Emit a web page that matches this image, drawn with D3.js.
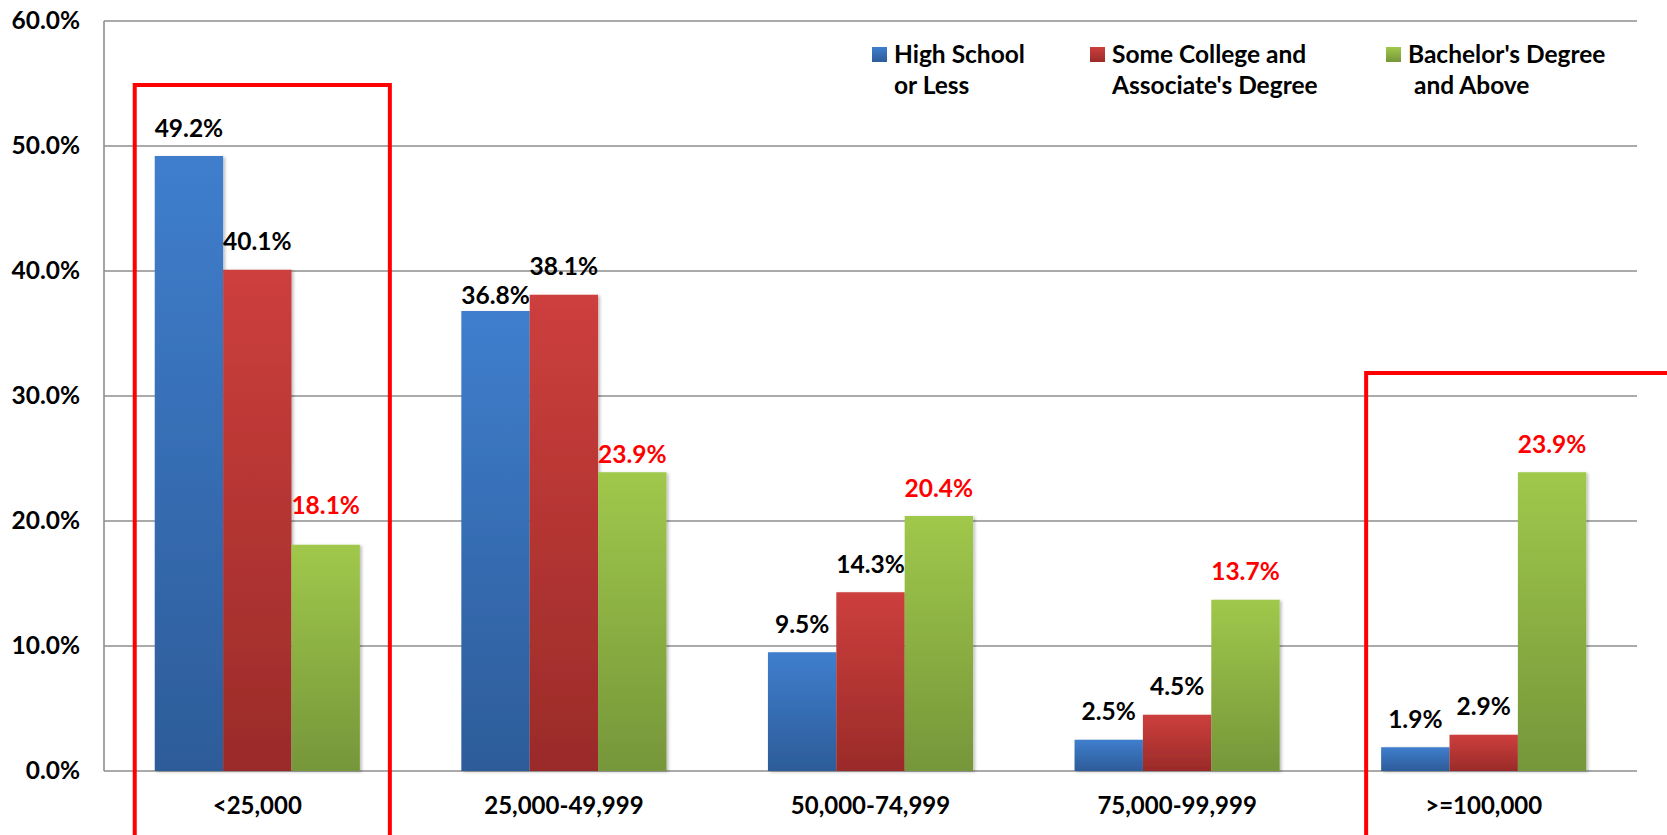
<!DOCTYPE html>
<html>
<head>
<meta charset="utf-8">
<script src="https://cdn.jsdelivr.net/npm/d3@7"></script>
<style>
  html, body { margin: 0; padding: 0; background: #ffffff; }
  svg { display: block; }
  text { font-family: "Lato", "Open Sans", sans-serif; font-weight: 700; }
</style>
</head>
<body>
<svg id="chart" width="1667" height="835"></svg>
<script>
// ---- Data ----
const categories = ["<25,000", "25,000-49,999", "50,000-74,999", "75,000-99,999", ">=100,000"];
const seriesKeys = ["hs", "sc", "ba"];
const seriesLabels = [
  ["High School", "or Less"],
  ["Some College and", "Associate's Degree"],
  ["Bachelor's Degree", " and Above"]
];
const highSchool = [49.2, 36.8, 9.5, 2.5, 1.9];
const someCollege = [40.1, 38.1, 14.3, 4.5, 2.9];
const bachelors = [18.1, 23.9, 20.4, 13.7, 23.9];
const yTicks = [0, 10, 20, 30, 40, 50, 60];
const highlightCategories = ["<25,000", ">=100,000"];

// ---- Styling ----
const gradients = {
  hs: ["#3f7ecd", "#2d5c99"],
  sc: ["#cd3f3d", "#9a2b29"],
  ba: ["#a0c84b", "#76963a"]
};
const labelColors = { hs: "#000000", sc: "#000000", ba: "#ff0000" };
// gap (px) between bar top and label baseline, per series per category
const labelGap = {
  hs: [19.5, 7, 19.5, 20, 19.5],
  sc: [19.5, 19.5, 19.5, 20, 19.5],
  ba: [31, 9.5, 19.5, 19.5, 19.5]
};
const FS = 24.5;

const seriesValues = { hs: highSchool, sc: someCollege, ba: bachelors };
const table = categories.map((c, i) => ({
  category: c,
  values: seriesKeys.map(k => ({ key: k, value: seriesValues[k][i], idx: i }))
}));

const svg = d3.select("#chart");
const plotLeft = 104, plotRight = 1637, plotTop = 21, plotBottom = 771;

const x = d3.scaleBand().domain(categories).range([plotLeft, plotRight])
  .paddingInner(0.331).paddingOuter(0.1655);
const xs = d3.scaleBand().domain(seriesKeys).range([0, x.bandwidth()]).padding(0);
const y = d3.scaleLinear().domain([0, 60]).range([plotBottom, plotTop]);

// defs
const defs = svg.append("defs");
seriesKeys.forEach(k => {
  const g = defs.append("linearGradient").attr("id", "grad-" + k)
    .attr("x1", 0).attr("y1", 0).attr("x2", 0).attr("y2", 1);
  g.append("stop").attr("offset", "0%").attr("stop-color", gradients[k][0]);
  g.append("stop").attr("offset", "100%").attr("stop-color", gradients[k][1]);
});
const f = defs.append("filter").attr("id", "shadow")
  .attr("x", "-10%").attr("y", "-10%").attr("width", "130%").attr("height", "130%");
f.append("feDropShadow").attr("dx", 2).attr("dy", 1).attr("stdDeviation", 1.5)
  .attr("flood-color", "#000").attr("flood-opacity", 0.25);

// gridlines
svg.append("g").selectAll("line").data(yTicks).join("line")
  .attr("x1", plotLeft).attr("x2", plotRight)
  .attr("y1", d => y(d)).attr("y2", d => y(d))
  .attr("stroke", "#8e8e8e").attr("stroke-width", 1.6);

// y axis line
svg.append("line").attr("x1", plotLeft).attr("x2", plotLeft)
  .attr("y1", y(60)).attr("y2", y(0))
  .attr("stroke", "#8e8e8e").attr("stroke-width", 1.6);

// y axis labels
const yAxis = d3.axisLeft(y).tickValues(yTicks).tickFormat(d => d.toFixed(1) + "%").tickSize(0).tickPadding(24);
const ya = svg.append("g").attr("transform", `translate(${plotLeft},0)`).call(yAxis);
ya.select(".domain").remove();
ya.selectAll("text").attr("font-size", FS).attr("fill", "#000")
  .attr("font-family", "Lato, sans-serif").attr("font-weight", 700);

// x axis labels
const xAxis = d3.axisBottom(x).tickSize(0).tickPadding(26);
const xa = svg.append("g").attr("transform", `translate(0,${plotBottom})`).call(xAxis);
xa.select(".domain").remove();
xa.selectAll("text").attr("font-size", 24).attr("fill", "#000")
  .attr("font-family", "Lato, sans-serif").attr("font-weight", 700);

// bars
const groups = svg.append("g").selectAll("g").data(table).join("g")
  .attr("transform", d => `translate(${x(d.category)},0)`);
groups.selectAll("rect").data(d => d.values).join("rect")
  .attr("x", d => xs(d.key))
  .attr("width", xs.bandwidth())
  .attr("y", d => y(d.value))
  .attr("height", d => y(0) - y(d.value))
  .attr("fill", d => `url(#grad-${d.key})`)
  .attr("filter", "url(#shadow)");

// value labels
groups.selectAll("text.val").data(d => d.values).join("text")
  .attr("class", "val")
  .attr("x", d => xs(d.key) + xs.bandwidth() / 2)
  .attr("y", d => y(d.value) - labelGap[d.key][d.idx])
  .attr("text-anchor", "middle")
  .attr("font-size", FS)
  .attr("fill", d => labelColors[d.key])
  .text(d => d.value.toFixed(1) + "%");

// legend
const legendX = [872, 1090, 1386];
const lg = svg.append("g").selectAll("g").data(seriesKeys).join("g")
  .attr("transform", (d, i) => `translate(${legendX[i]},0)`);
lg.append("rect").attr("x", 0).attr("y", 47).attr("width", 15).attr("height", 15)
  .attr("fill", d => `url(#grad-${d})`);
lg.each(function(d, i) {
  const t = d3.select(this).append("text").attr("font-size", FS).attr("fill", "#000")
    .style("white-space", "pre");
  seriesLabels[i].forEach((line, j) => {
    t.append("tspan").attr("x", 22).attr("y", 63 + j * 30.5).text(line);
  });
});

// highlight boxes (annotation)
const hl = svg.append("g");
const b0 = highlightCategories[0], b1 = highlightCategories[1];
hl.append("path")
  .attr("d", `M${x(b0) - 20},835 V85 H${x(b0) + x.bandwidth() + 30} V835`)
  .attr("fill", "none").attr("stroke", "#ff0000").attr("stroke-width", 4);
hl.append("path")
  .attr("d", `M${x(b1) - 15},835 V373 H1680`)
  .attr("fill", "none").attr("stroke", "#ff0000").attr("stroke-width", 4);
</script>
</body>
</html>
